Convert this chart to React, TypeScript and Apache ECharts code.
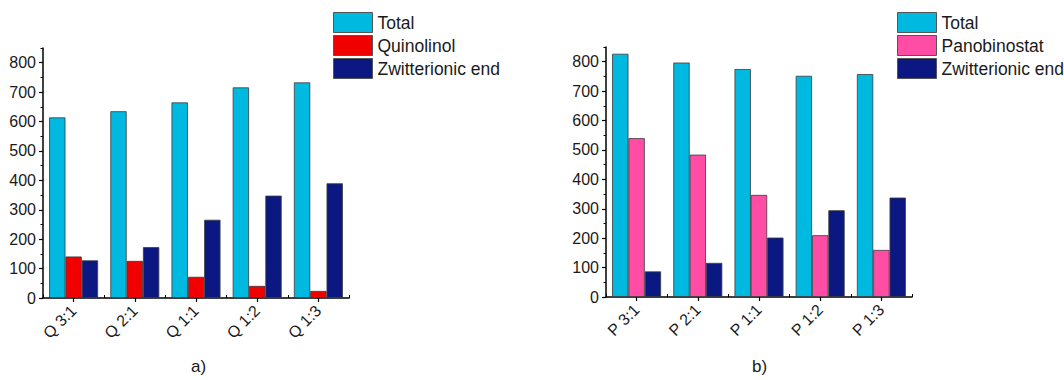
import React, { useEffect, useRef } from "react";
import * as echarts from "echarts";

const categoriesQ = ["Q 3:1", "Q 2:1", "Q 1:1", "Q 1:2", "Q 1:3"];
const categoriesP = ["P 3:1", "P 2:1", "P 1:1", "P 1:2", "P 1:3"];
const totalQ = [614, 635, 665, 716, 733];
const quinolinol = [141, 126, 72, 41, 24];
const zwitterQ = [128, 173, 266, 348, 390];
const totalP = [827, 797, 775, 752, 758];
const panobinostat = [540, 484, 347, 210, 160];
const zwitterP = [87, 116, 202, 295, 338];
const yTicks = [0, 100, 200, 300, 400, 500, 600, 700, 800];

const FONT = "'Liberation Sans', Arial, Helvetica, sans-serif";
const C_TOTAL = "#00B9E1";
const C_RED = "#F00000";
const C_PINK = "#FF4DA6";
const C_NAVY = "#0B1882";
const TXT = "#1a1a1a";

export default function App() {
  const ref = useRef<HTMLDivElement>(null);
  useEffect(() => {
    document.body.style.margin = "0";
    const chart = echarts.init(ref.current!, null, { renderer: "svg" });
    const grids = [
      { left: 43, top: 48, width: 306, height: 250 },
      { left: 606, top: 47, width: 306, height: 250 },
    ];
    const mkX = (gi: number, data: string[]) => [
      {
        type: "category",
        gridIndex: gi,
        data,
        position: "bottom",
        axisLine: { show: true, lineStyle: { color: "#000", width: 1.5 } },
        axisTick: { show: true, alignWithLabel: true, length: 4, lineStyle: { color: "#000", width: 1.2 } },
        axisLabel: { rotate: 45, margin: 10, fontSize: 16, color: TXT, fontFamily: FONT },
        splitLine: { show: false },
      },
      {
        type: "category",
        gridIndex: gi,
        data,
        position: "bottom",
        axisLine: { show: false },
        axisTick: { show: true, inside: true, length: 3, lineStyle: { color: "#000", width: 1 } },
        axisLabel: { show: false },
        splitLine: { show: false },
      },
    ];
    const mkY = (gi: number) => [
      {
        type: "value",
        gridIndex: gi,
        min: 0,
        max: 850,
        interval: 100,
        axisLine: { show: true, lineStyle: { color: "#000", width: 1.5 } },
        axisTick: { show: true, length: 4, customValues: yTicks, lineStyle: { color: "#000", width: 1.2 } },
        axisLabel: {
          customValues: yTicks,
          formatter: (v: number) => (v > 800 ? "" : String(v)),
          margin: 7,
          fontSize: 16,
          color: TXT,
          fontFamily: FONT,
        },
        splitLine: { show: false },
      },
      {
        type: "value",
        gridIndex: gi,
        min: 0,
        max: 850,
        interval: 50,
        position: "left",
        axisLine: { show: false },
        axisTick: { show: true, length: 2.5, lineStyle: { color: "#000", width: 1 } },
        axisLabel: { show: false },
        splitLine: { show: false },
      },
    ];
    const bar = (name: string, data: number[], color: string, xi: number, yi: number) => ({
      type: "bar",
      name,
      data,
      xAxisIndex: xi,
      yAxisIndex: yi,
      barGap: "0%",
      barCategoryGap: "20%",
      itemStyle: { color, borderColor: "#3a3a3a", borderWidth: 0.8 },
    });
    const legendBase = {
      orient: "vertical",
      top: 12,
      itemWidth: 39,
      itemHeight: 20,
      itemGap: 2,
      icon: "rect",
      textStyle: { fontSize: 17.5, color: TXT, fontFamily: FONT, padding: [0, 0, 0, 0] },
      itemStyle: { borderColor: "#555", borderWidth: 1 },
      padding: 0,
      selectedMode: false,
    };
    chart.setOption({
      animation: false,
      textStyle: { fontFamily: FONT },
      grid: grids,
      xAxis: [...mkX(0, categoriesQ), ...mkX(1, categoriesP)],
      yAxis: [...mkY(0), ...mkY(1)],
      legend: [
        { ...legendBase, left: 333, data: ["Total", "Quinolinol", "Zwitterionic end"] },
        { ...legendBase, left: 897, data: ["Total ", "Panobinostat", "Zwitterionic end "], formatter: (n: string) => n.trim() },
      ],
      series: [
        bar("Total", totalQ, C_TOTAL, 0, 0),
        bar("Quinolinol", quinolinol, C_RED, 0, 0),
        bar("Zwitterionic end", zwitterQ, C_NAVY, 0, 0),
        bar("Total ", totalP, C_TOTAL, 2, 2),
        bar("Panobinostat", panobinostat, C_PINK, 2, 2),
        bar("Zwitterionic end ", zwitterP, C_NAVY, 2, 2),
      ],
      graphic: [
        { type: "text", left: 191, top: 358, style: { text: "a)", fontSize: 17, fill: TXT, fontFamily: FONT } },
        { type: "text", left: 752, top: 358, style: { text: "b)", fontSize: 17, fill: TXT, fontFamily: FONT } },
      ],
    });
    return () => chart.dispose();
  }, []);
  return <div ref={ref} style={{ width: 1064, height: 380 }} />;
}
